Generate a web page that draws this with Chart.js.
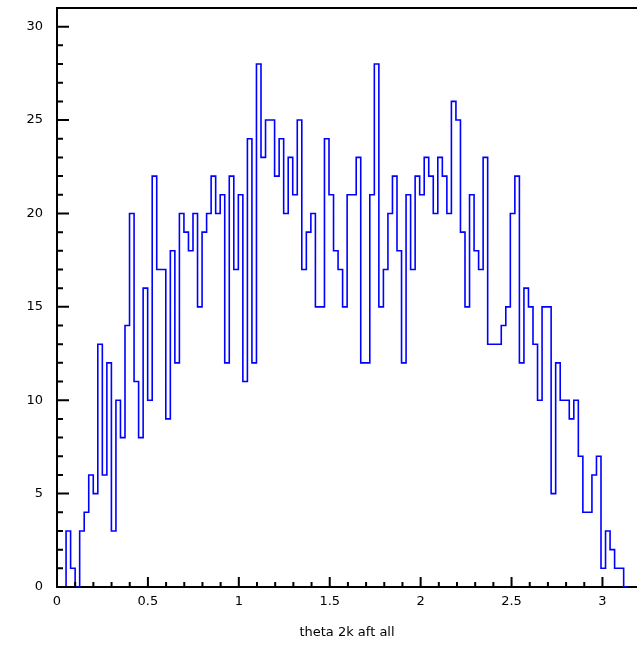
<!DOCTYPE html>
<html>
<head>
<meta charset="utf-8">
<script src="https://cdn.jsdelivr.net/npm/chart.js@4/dist/chart.umd.min.js"></script>
<style>
  html, body { margin: 0; padding: 0; background: #fff; }
  #wrap { width: 637px; height: 645px; }
</style>
</head>
<body>
<div id="wrap"><canvas id="histo" width="637" height="645"></canvas></div>
<script>
// contenu des bins, 126 bins entre 0 et pi
const counts = [
  0, 0, 3, 1, 0, 3, 4, 6, 5, 13,
  6, 12, 3, 10, 8, 14, 20, 11, 8, 16,
  10, 22, 17, 17, 9, 18, 12, 20, 19, 18,
  20, 15, 19, 20, 22, 20, 21, 12, 22, 17,
  21, 11, 24, 12, 28, 23, 25, 25, 22, 24,
  20, 23, 21, 25, 17, 19, 20, 15, 15, 24,
  21, 18, 17, 15, 21, 21, 23, 12, 12, 21,
  28, 15, 17, 20, 22, 18, 12, 21, 17, 22,
  21, 23, 22, 20, 23, 22, 20, 26, 25, 19,
  15, 21, 18, 17, 23, 13, 13, 13, 14, 15,
  20, 22, 12, 16, 15, 13, 10, 15, 15, 5,
  12, 10, 10, 9, 10, 7, 4, 4, 6, 7,
  1, 3, 2, 1, 1, 0
];
const xMin = 0;
const xMax = Math.PI;
const nBins = 126;
const xTicks = [0, 0.5, 1, 1.5, 2, 2.5, 3];
const yTicks = [0, 5, 10, 15, 20, 25, 30];
const xTitle = 'theta 2k aft all';

// points aux bords gauches des bins + fermeture a pi
const binW = (xMax - xMin) / nBins;
const points = counts.map((c, i) => ({ x: xMin + i * binW, y: c }));
points.push({ x: xMax, y: 0 });

const isMajor = (v, list) => list.some(t => Math.abs(t - v) < 1e-6);

// cadre du haut + graduations vers l'interieur
const frameTicks = {
  id: 'frameTicks',
  afterDatasetsDraw(chart) {
    const { ctx, chartArea: a, scales: { x, y } } = chart;
    ctx.save();
    ctx.strokeStyle = '#000';
    ctx.lineWidth = 2;
    ctx.beginPath();
    ctx.moveTo(a.left, a.top);
    ctx.lineTo(a.right, a.top);
    y.ticks.forEach(t => {
      if (Math.abs(t.value - Math.round(t.value)) > 1e-6) return;
      const py = y.getPixelForValue(t.value);
      const len = isMajor(t.value, yTicks) ? 12 : 6;
      ctx.moveTo(a.left, py);
      ctx.lineTo(a.left + len, py);
    });
    x.ticks.forEach(t => {
      const r = Math.round(t.value * 10);
      if (Math.abs(t.value * 10 - r) > 1e-6) return;
      const px = x.getPixelForValue(t.value);
      const len = isMajor(t.value, xTicks) ? 10 : 5;
      ctx.moveTo(px, a.bottom);
      ctx.lineTo(px, a.bottom - len);
    });
    ctx.stroke();
    ctx.restore();
  }
};

const ctx = document.getElementById('histo');
new Chart(ctx, {
  type: 'line',
  data: {
    datasets: [{
      data: points,
      stepped: true,
      borderColor: '#0000ff',
      borderWidth: 1.6,
      pointRadius: 0,
      fill: false,
      tension: 0
    }]
  },
  options: {
    responsive: false,
    animation: false,
    layout: { padding: { top: 8, right: 0, left: 0, bottom: 0 } },
    plugins: { legend: { display: false }, tooltip: { enabled: false } },
    scales: {
      x: {
        type: 'linear',
        min: 0,
        max: 3.19,
        afterFit: s => { s.height = 58; s.paddingLeft = 0; s.paddingRight = 0; },
        grid: { drawOnChartArea: false, drawTicks: false },
        border: { color: '#000', width: 2 },
        ticks: {
          stepSize: 0.1,
          autoSkip: false,
          maxRotation: 0,
          padding: 7,
          color: '#000',
          font: { family: 'DejaVu Sans', size: 13 },
          callback: v => isMajor(v, xTicks) ? String(Math.round(v * 10) / 10) : ''
        },
        title: {
          display: true,
          text: xTitle,
          color: '#000',
          font: { family: 'DejaVu Sans', size: 13 },
          padding: { top: 0, bottom: 5 }
        }
      },
      y: {
        min: 0,
        max: 31,
        afterFit: s => { s.width = 57; s.paddingTop = 0; s.paddingBottom = 0; },
        grid: { drawOnChartArea: false, drawTicks: false },
        border: { color: '#000', width: 2 },
        ticks: {
          stepSize: 1,
          autoSkip: false,
          padding: 14,
          color: '#000',
          font: { family: 'DejaVu Sans', size: 13 },
          callback: v => isMajor(v, yTicks) ? String(v) : ''
        }
      }
    }
  },
  plugins: [frameTicks]
});
</script>
</body>
</html>
